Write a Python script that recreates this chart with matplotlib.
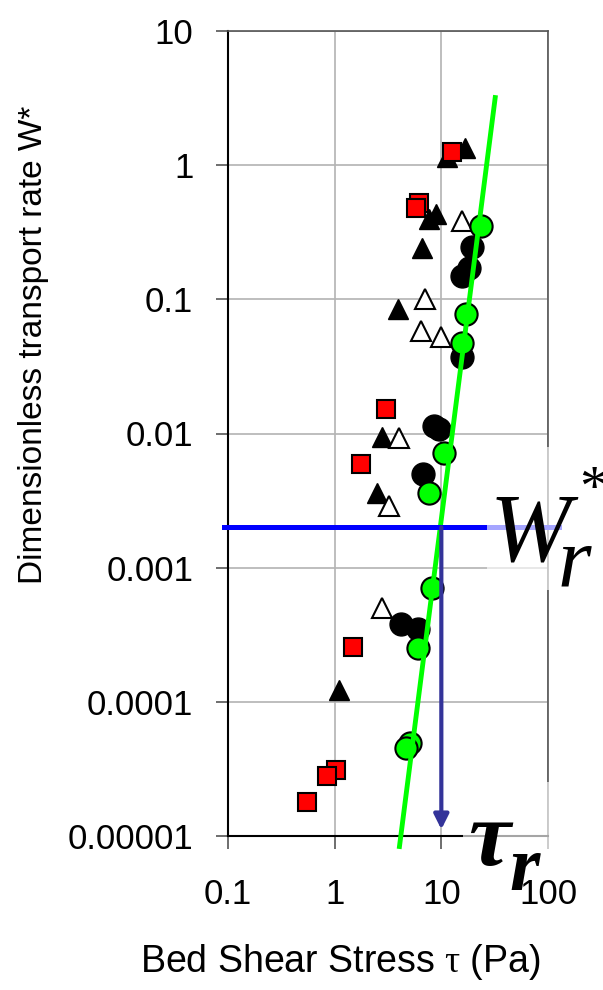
import numpy as np
import matplotlib.pyplot as plt
from matplotlib.patches import Rectangle

plt.rcParams['font.family'] = ['Liberation Sans', 'DejaVu Sans']
plt.rcParams['mathtext.fontset'] = 'custom'
plt.rcParams['mathtext.rm'] = 'Liberation Serif'
plt.rcParams['mathtext.it'] = 'Liberation Serif:italic'

# data
sq_x = [12.7, 6.2, 5.85, 3.05, 1.75, 1.5, 1.04, 0.84, 0.55]
sq_y = [1.26, 0.52, 0.48, 0.0152, 0.0059, 2.55e-4, 3.1e-5, 2.8e-5, 1.8e-5]

tri_x = [16.8, 11.4, 9.0, 7.7, 6.6, 3.9, 2.75, 2.5, 1.09]
tri_y = [1.35, 1.15, 0.43, 0.40, 0.24, 0.085, 0.0094, 0.0036, 1.22e-4]

otri_x = [15.7, 7.1, 6.5, 10.0, 4.05, 3.25, 2.75]
otri_y = [0.385, 0.10, 0.058, 0.052, 0.0093, 0.0029, 5.0e-4]

circ_x = [19.5, 18.3, 15.7, 15.7, 8.6, 9.6, 6.8, 4.2, 6.0]
circ_y = [0.246, 0.172, 0.15, 0.037, 0.0114, 0.0108, 0.005, 3.8e-4, 3.5e-4]

gc_x = [23.6, 17.1, 15.7, 10.7, 7.7, 8.1, 6.1, 5.1, 4.7]
gc_y = [0.35, 0.078, 0.047, 0.0072, 0.0036, 7.0e-4, 2.5e-4, 4.9e-5, 4.5e-5]

fit_x = [4.05, 32.0]
fit_y = [8.35e-6, 3.19]

wr_line_x = [0.092, 127.0]
wr_star = 0.002
tau_r = 10.0
arrow_end = 1.12e-5

xticks = [0.1, 1, 10, 100]
xlabels = ['0.1', '1', '10', '100']
yticks = [1e-5, 1e-4, 1e-3, 1e-2, 0.1, 1, 10]
ylabels = ['0.00001', '0.0001', '0.001', '0.01', '0.1', '1', '10']

W, H = 603, 990
fig = plt.figure(figsize=(W / 100, H / 100), dpi=100)
ax = fig.add_axes([228 / W, 1 - 836 / H, 320 / W, 805 / H])


def px(x, y):
    return x / W, 1 - y / H


ax.set_xscale('log')
ax.set_yscale('log')
ax.set_xlim(0.1, 100)
ax.set_ylim(1e-5, 10)
ax.set_xticks(xticks, xlabels)
ax.set_yticks(yticks, ylabels)
ax.minorticks_off()
ax.grid(True, color='#b3b3b3', lw=1.2)
ax.set_axisbelow(True)
ax.tick_params(axis='both', labelsize=25, length=9, width=1.2, color='#555555')
ax.tick_params(axis='x', pad=21)
ax.tick_params(axis='y', pad=16)
for s in ['left', 'bottom']:
    ax.spines[s].set_color('black')
    ax.spines[s].set_linewidth(1.5)
for s in ['top', 'right']:
    ax.spines[s].set_color('#555555')
    ax.spines[s].set_linewidth(1.2)

ax.plot(tri_x, tri_y, '^', ms=14, color='black', zorder=3)
ax.plot(otri_x, otri_y, '^', ms=14, mfc='white', mec='black', mew=1.5, zorder=3)
ax.plot(circ_x, circ_y, 'o', ms=16.5, color='black', zorder=4)
ax.plot(gc_x, gc_y, 'o', ms=16, mfc='#00ff00', mec='black', mew=1.5, zorder=5)
ax.plot(sq_x, sq_y, 's', ms=13.5, mfc='#ff0000', mec='black', mew=1.5, zorder=5)
ax.plot(fit_x, fit_y, '-', color='#00ff00', lw=3.5, zorder=6, clip_on=False)

ax.plot(wr_line_x, [wr_star, wr_star], '-', color='#0000ff', lw=3.6, zorder=6, clip_on=False)
ax.annotate('', xy=(tau_r, arrow_end), xytext=(tau_r, wr_star),
            arrowprops=dict(arrowstyle='-|>', color='#333399', lw=3,
                            mutation_scale=22, shrinkA=0, shrinkB=0),
            zorder=6)

# semi-transparent boxes behind the big symbols
fig.patches.append(Rectangle(px(487, 590), 116 / W, 143 / H, transform=fig.transFigure,
                             facecolor='white', edgecolor='none', alpha=0.65, zorder=2))
fig.patches.append(Rectangle(px(463, 850), 100 / W, 68 / H, transform=fig.transFigure,
                             facecolor='white', edgecolor='none', alpha=0.65, zorder=2))

serif = ['Liberation Serif', 'DejaVu Serif']
fig.text(*px(490, 560), 'W', family=serif, style='italic', fontsize=70, va='baseline', zorder=3)
fig.text(*px(558, 587), 'r', family=serif, style='italic', fontsize=62, va='baseline', zorder=3)
fig.text(*px(579, 505), '*', family=serif, fontsize=42, va='baseline', zorder=3)
fig.text(*px(468, 865), 'τ', family=serif, style='italic', weight='bold', fontsize=68,
         va='baseline', zorder=3)
fig.text(*px(509, 890), 'r', family=serif, style='italic', weight='bold', fontsize=56,
         va='baseline', zorder=3)

fig.text(*px(340, 962), r'Bed Shear Stress $\mathrm{\tau}$ (Pa)', fontsize=27,
         ha='center', va='center')
fig.text(*px(34, 345), 'Dimensionless transport rate W*', fontsize=24,
         ha='center', va='center', rotation=90)

fig.savefig('out.png', dpi=100)
